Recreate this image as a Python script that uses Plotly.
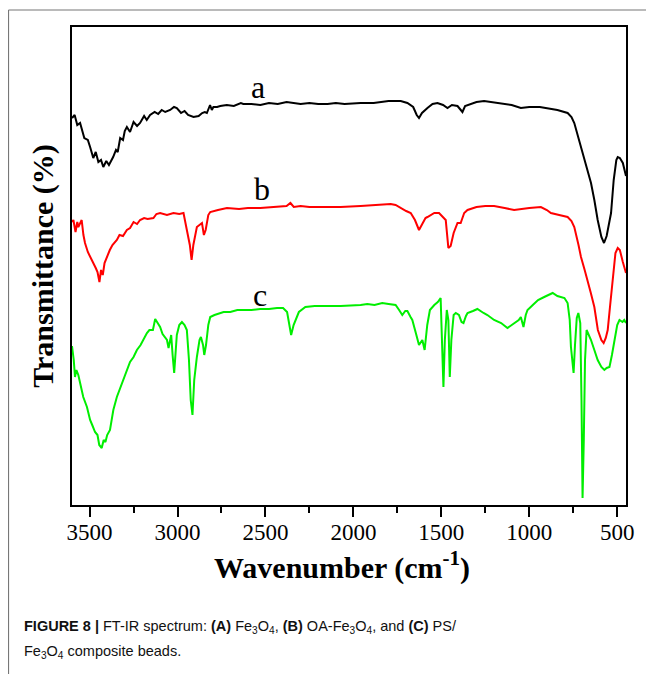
import plotly.graph_objects as go

# ---- data (transmittance in arbitrary offset units) ----
wn_a = [3600,3585,3570,3554,3530,3510,3497,3479,3465,3450,3435,3422,3405,3390,3366,3350,3340,3326,3310,3300,
        3288,3270,3250,3230,3213,3190,3175,3156,3130,3110,3090,3070,3042,3020,3004,2980,2960,2940,2909,2880,
        2860,2845,2833,2815,2805,2796,2775,2757,2720,2680,2640,2626,2580,2529,2480,2430,2380,2340,2300,2250,
        2200,2147,2100,2050,1959,1885,1800,1731,1693,1660,1640,1627,1610,1579,1550,1522,1490,1465,1440,1408,
        1392,1380,1365,1351,1300,1257,1210,1162,1100,1048,1000,940,896,840,782,760,744,725,706,680,
        649,630,611,590,575,560,545,535,520,505,497,485,468,450]
t_a = [387,390,380,382,367,365,358,347,353,343,345,338,344,340,348,355,353,367,365,374,
       378,373,383,379,382,389,385,390,393,391,395,393,395,398,397,392,394,390,388,389,
       392,393,392,400,395,398,398,399,400,399,402,401,401,400,402,401,403,402,401,402,
       401,401,402,401,402,402,404,404,402,398,390,387,392,397,401,402,400,397,400,399,
       395,393,399,400,403,404,403,402,400,397,398,398,397,395,392,388,382,370,358,342,
       322,305,285,268,262,269,283,292,325,345,348,347,342,329]

wn_b = [3600,3592,3580,3570,3564,3555,3545,3535,3526,3510,3495,3479,3465,3455,3444,3435,3425,3415,3402,3385,
        3370,3345,3330,3310,3288,3270,3250,3230,3213,3190,3170,3137,3120,3099,3060,3023,2990,2966,2947,2930,
        2920,2910,2890,2861,2850,2840,2825,2814,2770,2719,2650,2600,2529,2450,2380,2358,2339,2300,2250,2149,
        2073,1959,1880,1788,1760,1731,1700,1674,1650,1627,1610,1590,1579,1540,1513,1490,1475,1460,1447,1430,
        1408,1390,1370,1351,1300,1250,1200,1140,1086,1000,934,900,877,830,782,760,744,720,706,685,
        668,650,630,610,590,577,565,554,540,525,510,497,485,468,450]
t_b = [283,285,273,283,278,282,285,270,262,253,248,243,237,233,223,235,230,242,248,255,
       260,265,270,269,275,277,283,281,285,287,286,287,291,292,290,292,291,292,275,260,
       245,260,278,282,270,275,290,293,295,297,296,297,297,298,299,302,298,299,298,298,
       298,299,300,301,300,297,294,292,285,275,280,287,288,292,292,288,285,257,259,272,
       282,282,292,295,298,299,299,297,295,297,298,295,292,290,288,284,278,260,248,235,
       225,212,198,175,165,162,167,175,200,230,252,257,255,243,232]

wn_c = [3600,3590,3583,3575,3564,3550,3536,3515,3497,3485,3469,3455,3445,3431,3420,3410,3400,3384,3365,3345,
        3320,3300,3288,3270,3250,3231,3210,3190,3174,3160,3140,3127,3115,3099,3085,3070,3060,3051,3040,3036,
        3028,3019,3010,3004,2990,2975,2960,2947,2935,2925,2915,2905,2890,2875,2867,2855,2848,2838,2825,2814,
        2790,2760,2738,2700,2660,2624,2580,2530,2480,2434,2400,2377,2365,2354,2340,2330,2310,2273,2220,2149,
        2073,1959,1921,1880,1836,1800,1760,1740,1722,1705,1693,1675,1665,1645,1627,1608,1595,1580,1565,1540,
        1520,1504,1495,1488,1480,1469,1460,1452,1443,1430,1418,1400,1385,1374,1360,1351,1320,1295,1260,1238,
        1200,1160,1124,1100,1086,1060,1048,1033,1020,1010,980,950,915,890,867,840,820,800,782,770,
        763,755,748,740,730,721,710,703,697,690,683,674,660,649,630,611,590,573,560,544,
        530,516,500,487,470,460,450]
t_c = [159,145,128,135,130,120,108,98,85,80,73,70,60,57,65,63,70,75,95,108,
       120,130,135,143,148,155,160,167,172,175,175,186,183,178,171,168,165,157,168,170,
       150,132,155,170,180,183,180,175,145,105,90,125,148,165,168,160,150,160,180,188,
       190,192,193,193,195,195,195,196,196,197,197,193,180,170,180,185,193,198,199,199,
       199,200,201,200,202,201,200,195,190,194,194,188,185,172,160,165,155,180,195,200,
       203,207,165,118,165,195,185,128,165,190,192,190,183,182,189,192,194,196,192,190,
       185,182,177,180,182,185,188,178,190,195,200,205,208,210,212,209,208,207,202,185,
       158,140,132,160,187,192,182,105,7,65,145,175,170,165,155,145,138,135,137,138,
       150,165,180,185,183,185,182]

labels = ["a", "b", "c"]
label_wn = [2540, 2518, 2529]
label_t = [418, 316, 210]

tick_vals = [3500, 3000, 2500, 2000, 1500, 1000, 500]

SERIF = "Liberation Serif, Times New Roman, serif"

fig = go.Figure()
for wn, t, col in [(wn_a, t_a, "#000000"), (wn_b, t_b, "#ff0000"), (wn_c, t_c, "#00ee00")]:
    fig.add_trace(go.Scatter(x=wn, y=t, mode="lines", line=dict(color=col, width=2),
                             showlegend=False, hoverinfo="skip"))

for lab, xw, yt in zip(labels, label_wn, label_t):
    fig.add_annotation(x=xw, y=yt, text=lab, showarrow=False,
                       font=dict(family=SERIF, size=32, color="#000"))

# page body has an 8px margin; figure is sized/margined so the plot frame sits at x 72..626, y 27..505
fig.update_layout(
    width=646, height=666,
    margin=dict(l=64, r=28, t=19, b=169),
    paper_bgcolor="white", plot_bgcolor="white",
    xaxis=dict(range=[3600, 450], tickvals=tick_vals, ticktext=[str(v) for v in tick_vals],
               ticks="outside", ticklen=10, tickwidth=1.5, tickcolor="#000", ticklabelstandoff=-5,
               minor=dict(dtick=250, ticks="outside", ticklen=6, tickwidth=1.5, tickcolor="#000", tick0=3250),
               showline=True, linecolor="#000", linewidth=2, mirror=True, showgrid=False, zeroline=False,
               tickfont=dict(family=SERIF, size=23, color="#000")),
    yaxis=dict(range=[0, 478], showticklabels=False, ticks="", showline=True, linecolor="#000",
               linewidth=2, mirror=True, showgrid=False, zeroline=False,
               title=dict(text="<b>Transmittance (%)</b>", standoff=8,
                          font=dict(family=SERIF, size=30, color="#000"))),
)

# x-axis title
fig.add_annotation(xref="paper", yref="paper", x=(341.5 - 72) / 554, y=(505 - 565) / 478,
                   xanchor="center", yanchor="middle", showarrow=False,
                   text="<b>Wavenumber (cm<sup>-1</sup>)</b>",
                   font=dict(family=SERIF, size=30, color="#000"))

# outer frame lines (top and left) of the figure panel
fig.add_shape(type="line", xref="paper", yref="paper", x0=(8.5 - 72) / 554, x1=1.06,
              y0=(505 - 10) / 478, y1=(505 - 10) / 478, line=dict(color="#777", width=1.2))
fig.add_shape(type="line", xref="paper", yref="paper", x0=(8.5 - 72) / 554, x1=(8.5 - 72) / 554,
              y0=(505 - 10) / 478, y1=-0.36, line=dict(color="#777", width=1.2))

cap1 = ("<b>FIGURE 8 |</b> FT-IR spectrum: <b>(A)</b> Fe<sub>3</sub>O<sub>4</sub>, <b>(B)</b> "
        "OA-Fe<sub>3</sub>O<sub>4</sub>, and <b>(C)</b> PS/")
cap2 = "Fe<sub>3</sub>O<sub>4</sub> composite beads."
CAPF = dict(family="Liberation Sans, Arial, sans-serif", size=14.5, color="#111")
fig.add_annotation(xref="paper", yref="paper", x=(22 - 72) / 554, y=(505 - 627) / 478, xanchor="left",
                   yanchor="middle", text=cap1, showarrow=False, font=CAPF)
fig.add_annotation(xref="paper", yref="paper", x=(22 - 72) / 554, y=(505 - 652) / 478, xanchor="left",
                   yanchor="middle", text=cap2, showarrow=False, font=CAPF)

fig.write_html("out.html")
